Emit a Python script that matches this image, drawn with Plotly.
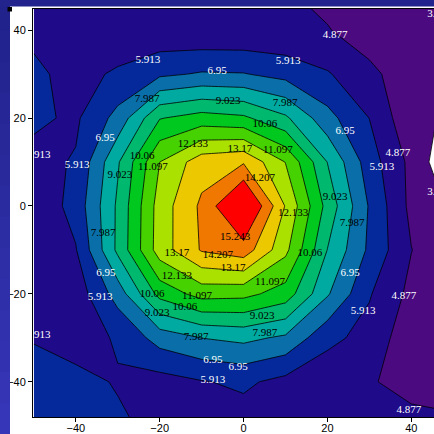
import plotly.graph_objects as go

# grid (data units)
x_vals = [-50, -40, -30, -20, -10, 0, 10, 20, 30, 40, 50]
y_vals = [50, 40, 30, 20, 10, 0, -10, -20, -30, -40, -50]

# z values, one list per grid row (top to bottom)
z_y50 = [5.3, 5.1, 5.0, 4.95, 4.95, 4.95, 4.9, 4.4, 3.95, 3.95, 3.75]
z_y40 = [5.7, 5.2, 5.25, 5.1, 5.0, 5.0, 5.0, 4.95, 4.2, 4.0, 3.8]
z_y30 = [6.1, 5.6, 6.05, 6.75, 7.05, 7.0, 6.6, 6.0, 5.2, 4.1, 3.8]
z_y20 = [6.1, 5.75, 7.3, 10.0, 10.5, 10.25, 9.2, 7.3, 5.9, 4.05, 3.7]
z_y10 = [5.6, 6.0, 8.9, 12.13, 13.75, 14.1, 12.1, 9.0, 6.4, 4.6, 2.8]
z_y0 = [5.1, 6.3, 9.2, 12.6, 14.4, 16.9, 13.1, 9.7, 6.85, 4.6, 3.65]
z_ym10 = [5.3, 5.85, 9.25, 12.65, 14.3, 14.8, 12.4, 9.0, 6.75, 4.9, 4.0]
z_ym20 = [5.4, 5.3, 7.4, 10.4, 11.5, 11.4, 10.64, 8.1, 6.0, 4.6, 4.1]
z_ym30 = [5.85, 5.55, 6.0, 7.4, 8.0, 8.25, 7.8, 6.2, 5.55, 4.2, 4.2]
z_ym40 = [6.3, 6.15, 5.85, 5.5, 5.85, 6.1, 5.6, 5.2, 4.95, 4.6, 4.5]
z_ym50 = [6.5, 6.3, 6.05, 5.7, 5.5, 5.4, 5.3, 5.2, 5.15, 5.15, 5.05]
z_rows = [z_y50, z_y40, z_y30, z_y20, z_y10, z_y0, z_ym10, z_ym20, z_ym30, z_ym40, z_ym50]

# contour levels 3.84 ... 15.243
level_start = 3.84015
level_step = 1.03665
level_end = 15.2433
n_levels = 12
levels = [level_start + k * level_step for k in range(n_levels)]

tick_vals = [-40, -20, 0, 20, 40]

band_colors = ['#ffffff', '#4b0a80', '#1f0a8a', '#05289a', '#0a6fa8', '#00aaa0',
               '#00b86e', '#00c81e', '#46d200', '#aae100', '#ebc800', '#f07800', '#ff0000']
n_bands = len(band_colors) - 1
colorscale = [[i / n_bands, c] for i, c in enumerate(band_colors)]

# where the contour labels sit (level index, x, y) -- placement only
label_places = [
    (0, 46.1, 43.6), (0, 46.1, 3.2),
    (1, 21.8, 38.9), (1, 36.8, 12.0), (1, 38.2, -20.5), (1, 39.4, -46.4),
    (2, -22.8, 33.2), (2, 10.6, 33.0), (2, 33.0, 8.9), (2, 28.5, -23.9),
    (2, -39.7, 9.3), (2, -49.0, 11.6), (2, -34.2, -20.7), (2, -49.0, -29.3),
    (2, -7.3, -39.6),
    (3, -6.3, 30.7), (3, -33.0, 15.5), (3, 24.2, 17.1), (3, 25.4, -15.2),
    (3, -32.8, -15.2), (3, -7.3, -35.0), (3, -1.3, -36.6),
    (4, -23.0, 24.3), (4, 9.9, 23.4), (4, -33.5, -6.1), (4, 25.9, -3.9),
    (4, -11.3, -29.8), (4, 5.1, -28.9),
    (5, -3.7, 23.9), (5, -29.5, 7.0), (5, 21.8, 2.0), (5, -20.6, -24.3),
    (5, 4.4, -25.0),
    (6, 5.1, 18.6), (6, -24.2, 11.3), (6, 15.8, -10.7), (6, -21.8, -20.0),
    (6, -14.0, -23.0),
    (7, 8.2, 12.7), (7, -21.6, 8.9), (7, -11.1, -20.5), (7, 6.3, -17.3),
    (8, -12.1, 14.1), (8, 11.8, -1.6), (8, -15.9, -15.9),
    (9, -0.9, 13.0), (9, -15.9, -10.7), (9, -2.5, -14.1),
    (10, 3.9, 6.4), (10, -6.1, -11.2),
    (11, -2.0, -7.1),
]

def fmt_level(v):
    s = '%.3f' % v
    return s.rstrip('0').rstrip('.')

fig = go.Figure()
fig.add_trace(go.Contour(
    x=x_vals, y=y_vals, z=z_rows,
    autocontour=False,
    colorscale=colorscale, showscale=False,
    contours=dict(start=level_start, end=level_end, size=level_step,
                  coloring='fill', showlines=True),
    line=dict(color='black', width=0.8, smoothing=0),
    hoverinfo='skip'))

for light in (True, False):
    pts = [p for p in label_places if (p[0] <= 3) == light]
    fig.add_trace(go.Scatter(
        x=[p[1] for p in pts], y=[p[2] for p in pts],
        text=[fmt_level(levels[p[0]]) for p in pts],
        mode='text', cliponaxis=True, hoverinfo='skip',
        textfont=dict(family='Liberation Serif', size=11,
                      color='white' if light else 'black')))

axis_common = dict(
    tickvals=tick_vals, ticks='outside', ticklen=4, tickwidth=1, tickcolor='black',
    showline=True, linecolor='black', linewidth=1, showgrid=False, zeroline=False,
    automargin=False,
    tickfont=dict(family='Liberation Sans', size=11, color='black'))

fig.update_xaxes(range=[-50.2, 45.4], mirror=True, ticklabelstandoff=-3, **axis_common)
fig.update_yaxes(range=[-48, 44.8], **axis_common)

# window frame decoration (blue strips)
L, T, W, H = 33, 9, 401, 408
def px_x(p):
    return (p - L) / W
def px_y(p):
    return 1 - (p - T) / H

shapes = []
n_seg = 14
c0 = (0x22, 0x22, 0x8c)
c1 = (0x36, 0x36, 0xb8)
for i in range(n_seg):
    f = i / (n_seg - 1)
    col = '#%02x%02x%02x' % tuple(int(a + (b - a) * f) for a, b in zip(c0, c1))
    shapes.append(dict(type='rect', xref='paper', yref='paper',
                       x0=px_x(0), x1=px_x(10),
                       y0=px_y(434 * i / n_seg), y1=px_y(434 * (i + 1) / n_seg + 1),
                       fillcolor=col, line=dict(width=0), layer='above'))
shapes.append(dict(type='rect', xref='paper', yref='paper',
                   x0=px_x(0), x1=px_x(434), y0=px_y(0), y1=px_y(6.5),
                   fillcolor='#23238e', line=dict(width=0), layer='above'))
shapes.append(dict(type='rect', xref='paper', yref='paper',
                   x0=px_x(7.5), x1=px_x(12), y0=px_y(7), y1=px_y(11.5),
                   fillcolor='black', line=dict(width=0), layer='above'))

fig.update_layout(width=434, height=434,
                  margin=dict(l=L, r=0, t=T, b=17),
                  paper_bgcolor='white', plot_bgcolor='white',
                  showlegend=False, shapes=shapes)

fig.write_html("out.html")
